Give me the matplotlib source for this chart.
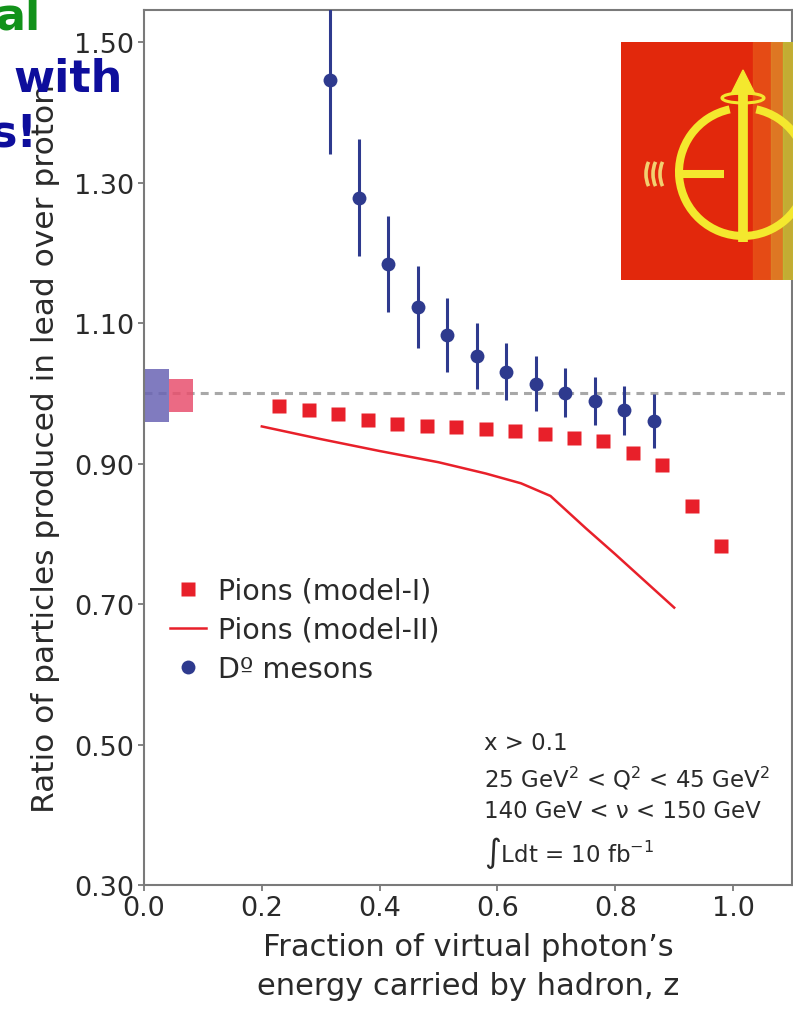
import numpy as np
import matplotlib
matplotlib.use('Agg')
from matplotlib import pyplot as plt
from matplotlib.patches import Rectangle, Arc, Ellipse, Polygon

# 데이터 ---------------------------------------------
z_pion = [0.23, 0.28, 0.33, 0.38, 0.43, 0.48, 0.53, 0.58,
          0.63, 0.68, 0.73, 0.78, 0.83, 0.88, 0.93, 0.98]
r_pion = [0.982, 0.976, 0.970, 0.962, 0.957, 0.954, 0.952, 0.950,
          0.946, 0.942, 0.937, 0.932, 0.915, 0.898, 0.840, 0.783]

z_model2 = [0.20, 0.30, 0.40, 0.50, 0.58, 0.64, 0.69, 0.75, 0.80, 0.85, 0.90]
r_model2 = [0.953, 0.935, 0.918, 0.902, 0.886, 0.872, 0.854, 0.808, 0.771, 0.733, 0.695]

z_d0 = [0.315, 0.365, 0.415, 0.465, 0.515, 0.565,
        0.615, 0.665, 0.715, 0.765, 0.815, 0.865]
r_d0 = [1.446, 1.279, 1.184, 1.123, 1.083, 1.053,
        1.031, 1.014, 1.001, 0.989, 0.976, 0.961]
e_d0 = [0.105, 0.083, 0.068, 0.059, 0.053, 0.047,
        0.041, 0.039, 0.035, 0.034, 0.035, 0.038]

# 정규화 불확도 박스 (x 시작, 폭, 중심, 반높이)
sys_blue = [0.0, 0.042, 0.997, 0.038]
sys_red = [0.042, 0.041, 0.997, 0.023]

xticks = [0.0, 0.2, 0.4, 0.6, 0.8, 1.0]
yticks = [0.30, 0.50, 0.70, 0.90, 1.10, 1.30, 1.50]

RED = '#E8202A'
BLUE = '#2E3A8E'
GRAY = '#7A7A7A'
TXT = '#2A2A2A'

plt.rcParams['font.family'] = ['DejaVu Sans']

fig = plt.figure(figsize=(7.93, 10.12), dpi=100)
ax = fig.add_axes([144 / 793, 126 / 1012, 648 / 793, 875 / 1012])

# 기준선 & 박스
ax.axhline(1.0, color='#A8A8A8', lw=2.2, ls=(0, (2.6, 2.0)), zorder=1)
ax.add_patch(Rectangle((sys_blue[0], sys_blue[2] - sys_blue[3]), sys_blue[1], 2 * sys_blue[3],
                       facecolor='#6A64B4', edgecolor='none', alpha=0.85, zorder=2))
ax.add_patch(Rectangle((sys_red[0], sys_red[2] - sys_red[3]), sys_red[1], 2 * sys_red[3],
                       facecolor='#E8506E', edgecolor='none', alpha=0.85, zorder=2))

# 데이터 그리기
ax.plot(z_pion, r_pion, 's', color=RED, ms=10, mec='none', label='Pions (model-I)', zorder=4)
ax.plot(z_model2, r_model2, '-', color=RED, lw=1.8, label='Pions (model-II)', zorder=3)
ax.errorbar(z_d0, r_d0, yerr=e_d0, fmt='none', ecolor=BLUE, elinewidth=2.2, capsize=0, zorder=5)
ax.plot(z_d0, r_d0, 'o', color=BLUE, ms=10, mec='none', label='D\u00ba mesons', zorder=6)

ax.set_xlim(0, 1.1)
ax.set_ylim(0.30, 1.546)
ax.set_xticks(xticks)
ax.set_xticklabels([f'{v:.1f}' for v in xticks])
ax.set_yticks(yticks)
ax.set_yticklabels([f'{v:.2f}' for v in yticks])
ax.tick_params(direction='out', length=4, width=1.3, color=GRAY, labelsize=19.5,
               labelcolor=TXT, pad=3)
for s in ax.spines.values():
    s.set_color(GRAY)
    s.set_linewidth(1.5)

ax.set_xlabel("Fraction of virtual photon\u2019s\nenergy carried by hadron, z",
              fontsize=22, color=TXT, linespacing=1.45, labelpad=8)
ax.set_ylabel('Ratio of particles produced in lead over proton',
              fontsize=22.5, color=TXT, labelpad=10)

ax.legend(loc='upper left', bbox_to_anchor=(0.04, 0.352), frameon=False, fontsize=20.5,
          handlelength=1.25, handletextpad=0.45, labelspacing=0.38, borderaxespad=0,
          borderpad=0, labelcolor=TXT)

ax.text(0.525, 0.176,
        'x > 0.1\n25 GeV$^2$ < Q$^2$ < 45 GeV$^2$\n140 GeV < \u03bd < 150 GeV\n\u222bLdt = 10 fb$^{-1}$',
        transform=ax.transAxes, fontsize=16.5, color=TXT, va='top', ha='left',
        linespacing=1.45)

# 로고 (인셋) ------------------------------------------
lg = fig.add_axes([621 / 793, (1012 - 281) / 1012, 172 / 793, 238 / 1012])
lg.set_xlim(0, 172)
lg.set_ylim(238, 0)
lg.axis('off')
lg.add_patch(Rectangle((0, 0), 172, 238, color='#E2280C'))
lg.add_patch(Rectangle((132, 0), 40, 238, color='#E65418', alpha=0.8))
lg.add_patch(Rectangle((150, 0), 22, 238, color='#DC8A2A', alpha=0.7))
lg.add_patch(Rectangle((162, 0), 10, 238, color='#B8C43A', alpha=0.7))
YEL = '#F4E82E'
lg.add_patch(Arc((122, 130), 128, 128, theta1=282, theta2=618, color=YEL, lw=5.8))
lg.plot([58, 103], [132, 132], color=YEL, lw=5.8, solid_capstyle='butt')
lg.plot([122, 122], [200, 46], color=YEL, lw=7, solid_capstyle='butt')
lg.add_patch(Polygon([[110, 52], [134, 52], [122, 28]], closed=True, color=YEL))
lg.add_patch(Ellipse((122, 56), 42, 10, fill=False, edgecolor=YEL, lw=2.2))
for cx in (42, 49, 56):
    lg.add_patch(Arc((cx, 132), 34, 46, theta1=140, theta2=220, color='#F2D070', lw=2.6))

# 왼쪽 위 겹친 글씨
fig.text(40 / 793, 1 - 30 / 1012, 'al', color='#12921A', fontsize=32, fontweight='bold',
         ha='right', va='baseline')
fig.text(13 / 793, 1 - 92 / 1012, 'with', color='#0E0E9C', fontsize=32, fontweight='bold',
         ha='left', va='baseline')
fig.text(38 / 793, 1 - 147 / 1012, 's!', color='#0E0E9C', fontsize=32, fontweight='bold',
         ha='right', va='baseline')

fig.savefig('out.png', dpi=100)
